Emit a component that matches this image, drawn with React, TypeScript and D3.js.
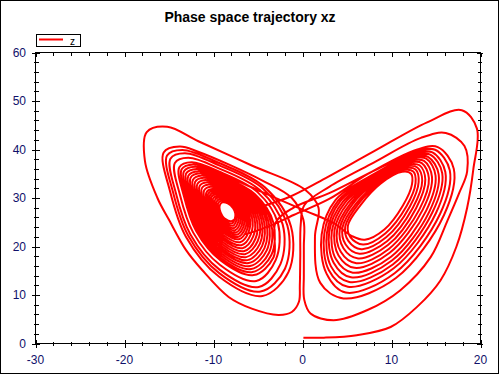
import React from 'react';
import * as d3 from 'd3';

type P = [number, number];

const chartTitle = 'Phase space trajectory xz';
const seriesName = 'z';
const xDomain: P = [-30, 20];
const zDomain: P = [0, 60];
const xMajorTicks = [-30, -20, -10, 0, 10, 20];
const zMajorTicks = [0, 10, 20, 30, 40, 50, 60];

// trajectory, in drawing order
const startRun: P[] = [
  [0.1, 1.2], [2.4, 1.2], [6.1, 1.7], [9.9, 3.4], [12.9, 7.6], [15.5, 13.0], [17.3, 20.0],
  [18.5, 28.0], [19.2, 36.0], [19.6, 44.3], [17.9, 48.1], [14.0, 45.6], [8.0, 39.6],
  [2.0, 33.5], [-1.5, 30.2], [-4.5, 28.3], [-6.6, 27.0],
];

const leftSpiralA: P[][] = [
  [[-8.0, 25.2], [-8.7, 25.7], [-9.0, 26.3], [-9.3, 27.6], [-9.3, 28.5], [-9.0, 29.1], [-8.4, 28.9], [-7.8, 27.9], [-7.55, 26.8], [-7.6, 25.8]],
  [[-7.9, 24.75], [-8.72, 25.35], [-9.12, 26.17], [-9.47, 27.72], [-9.49, 28.83], [-9.14, 29.45], [-8.43, 29.17], [-7.69, 28.04], [-7.35, 26.72], [-7.41, 25.45]],
  [[-7.79, 24.28], [-8.74, 24.99], [-9.25, 26.04], [-9.64, 27.83], [-9.68, 29.15], [-9.29, 29.79], [-8.47, 29.43], [-7.57, 28.18], [-7.15, 26.63], [-7.22, 25.09]],
  [[-7.69, 23.81], [-8.76, 24.63], [-9.37, 25.91], [-9.8, 27.95], [-9.87, 29.48], [-9.43, 30.14], [-8.5, 29.7], [-7.46, 28.31], [-6.95, 26.55], [-7.02, 24.74]],
  [[-7.58, 23.35], [-8.78, 24.27], [-9.49, 25.78], [-9.97, 28.07], [-10.06, 29.81], [-9.58, 30.48], [-8.53, 29.97], [-7.34, 28.45], [-6.75, 26.46], [-6.83, 24.38]],
  [[-7.48, 22.89], [-8.81, 23.92], [-9.62, 25.66], [-10.14, 28.19], [-10.25, 30.14], [-9.72, 30.83], [-8.57, 30.24], [-7.23, 28.59], [-6.55, 26.38], [-6.64, 24.03]],
  [[-7.37, 22.43], [-8.83, 23.56], [-9.74, 25.53], [-10.31, 28.3], [-10.43, 30.46], [-9.86, 31.17], [-8.6, 30.5], [-7.12, 28.73], [-6.35, 26.3], [-6.45, 23.68]],
  [[-7.27, 21.97], [-8.85, 23.2], [-9.86, 25.4], [-10.48, 28.42], [-10.62, 30.79], [-10.01, 31.52], [-8.63, 30.77], [-7.0, 28.87], [-6.15, 26.21], [-6.26, 23.32]],
  [[-7.16, 21.5], [-8.87, 22.84], [-9.98, 25.27], [-10.64, 28.54], [-10.81, 31.12], [-10.15, 31.86], [-8.66, 31.04], [-6.89, 29.0], [-5.95, 26.13], [-6.06, 22.97]],
  [[-7.02, 20.89], [-8.9, 22.37], [-10.15, 25.1], [-10.87, 28.69], [-11.06, 31.55], [-10.34, 32.32], [-8.71, 31.39], [-6.74, 29.19], [-5.69, 26.02], [-5.81, 22.5]],
  [[-6.88, 20.27], [-8.92, 21.89], [-10.31, 24.92], [-11.09, 28.85], [-11.32, 31.99], [-10.54, 32.78], [-8.75, 31.75], [-6.58, 29.37], [-5.42, 25.9], [-5.55, 22.02]],
  [[-6.74, 19.66], [-8.95, 21.42], [-10.48, 24.75], [-11.32, 29.0], [-11.57, 32.42], [-10.73, 33.24], [-8.8, 32.1], [-6.43, 29.56], [-5.16, 25.79], [-5.3, 21.55]],
  [[-6.6, 19.04], [-8.98, 20.94], [-10.64, 24.58], [-11.54, 29.16], [-11.82, 32.86], [-10.92, 33.7], [-8.84, 32.46], [-6.28, 29.74], [-4.89, 25.68], [-5.04, 21.08]],
  [[-6.46, 18.42], [-9.01, 20.46], [-10.8, 24.41], [-11.76, 29.32], [-12.07, 33.3], [-11.11, 34.16], [-8.88, 32.82], [-6.13, 29.92], [-4.62, 25.57], [-4.78, 20.61]],
  [[-6.32, 17.81], [-9.04, 19.99], [-10.97, 24.24], [-11.99, 29.47], [-12.32, 33.73], [-11.3, 34.62], [-8.93, 33.17], [-5.98, 30.11], [-4.36, 25.46], [-4.53, 20.14]],
  [[-6.18, 17.19], [-9.06, 19.51], [-11.13, 24.06], [-12.21, 29.63], [-12.58, 34.17], [-11.5, 35.08], [-8.97, 33.53], [-5.82, 30.29], [-4.09, 25.34], [-4.27, 19.66]],
  [[-6.04, 16.58], [-9.09, 19.04], [-11.3, 23.89], [-12.44, 29.78], [-12.83, 34.6], [-11.69, 35.54], [-9.02, 33.88], [-5.67, 30.48], [-3.83, 25.23], [-4.02, 19.19]],
  [[-5.9, 15.96], [-9.12, 18.56], [-11.46, 23.72], [-12.66, 29.94], [-13.08, 35.04], [-11.88, 36.0], [-9.06, 34.24], [-5.52, 30.66], [-3.56, 25.12], [-3.76, 18.72]],
  [[-5.76, 15.34], [-9.15, 18.08], [-11.62, 23.55], [-12.88, 30.1], [-13.33, 35.48], [-12.07, 36.46], [-9.1, 34.6], [-5.37, 30.84], [-3.29, 25.01], [-3.5, 18.25]],
  [[-5.62, 14.73], [-9.18, 17.61], [-11.79, 23.38], [-13.11, 30.25], [-13.58, 35.91], [-12.26, 36.92]],
];

const switchLeftToRight: P[] = [[-9.2, 35.0], [-4.5, 31.2], [0.0, 27.6], [3.5, 24.8], [5.5, 22.2]];

const rightSpiralA: P[][] = [
  [[7.0, 21.4], [9.2, 23.5], [11.3, 28.5], [12.3, 32.8], [12.2, 35.0], [11.2, 35.4], [8.8, 33.0], [6.5, 28.5], [5.1, 24.3], [5.4, 21.9]],
  [[6.8, 20.4], [9.3, 22.7], [11.7, 28.35], [12.7, 33.05], [12.45, 35.45], [11.35, 35.75], [8.7, 33.15], [6.2, 28.6], [4.8, 24.1], [5.15, 21.15]],
  [[6.6, 19.45], [9.4, 21.9], [12.05, 28.2], [13.05, 33.3], [12.7, 35.9], [11.5, 36.15], [8.6, 33.3], [5.95, 28.7], [4.5, 23.95], [4.85, 20.4]],
  [[6.4, 18.5], [9.5, 21.1], [12.4, 28.0], [13.45, 33.55], [12.9, 36.3], [11.6, 36.5], [8.45, 33.5], [5.65, 28.8], [4.2, 23.75], [4.6, 19.65]],
  [[6.25, 17.55], [9.6, 20.3], [12.75, 27.85], [13.8, 33.8], [13.15, 36.75], [11.75, 36.85], [8.35, 33.65], [5.4, 28.9], [3.9, 23.55], [4.3, 18.9]],
  [[6.05, 16.55], [9.7, 19.5], [13.15, 27.7], [14.2, 34.1], [13.4, 37.2], [11.9, 37.25], [8.25, 33.8], [5.1, 29.0], [3.6, 23.4], [4.05, 18.15]],
  [[5.85, 15.6], [9.8, 18.7], [13.5, 27.55], [14.55, 34.35], [13.65, 37.65], [12.0, 37.6], [8.15, 33.95], [4.8, 29.1], [3.3, 23.2], [3.75, 17.4]],
  [[5.65, 14.6], [9.95, 17.9], [13.9, 27.4], [14.95, 34.6], [13.9, 38.1], [12.15, 38.0], [8.0, 34.1], [4.55, 29.25], [3.0, 23.0], [3.5, 16.65]],
  [[5.45, 13.65], [10.05, 17.1], [14.25, 27.2], [15.3, 34.85], [14.1, 38.5], [12.3, 38.35], [7.9, 34.3], [4.25, 29.35], [2.75, 22.85], [3.2, 15.9]],
  [[5.25, 12.7], [10.15, 16.3], [14.6, 27.05], [15.7, 35.1], [14.35, 38.95], [12.4, 38.7], [7.8, 34.45], [4.0, 29.45], [2.45, 22.65], [2.95, 15.15]],
  [[5.1, 11.7], [10.25, 15.5], [15.0, 26.9], [16.05, 35.35], [14.6, 39.4], [12.55, 39.1], [7.7, 34.6], [3.7, 29.55], [2.15, 22.45], [2.7, 14.4]],
  [[4.85, 10.5], [10.35, 14.5], [15.45, 26.7], [16.55, 35.7], [14.9, 39.95], [12.75, 39.55]],
];

const switchRightToLeft: P[] = [[8.0, 35.6], [3.0, 31.0], [-1.0, 28.0]];

const leftSpiralB: P[][] = [
  [[-3.03, 24.9], [-3.25, 17.78]],
  [[-5.48, 14.11], [-9.2, 17.13], [-11.95, 23.2], [-13.33, 30.41], [-13.84, 36.35], [-12.46, 37.38], [-9.19, 35.31], [-5.06, 31.21], [-2.76, 24.78], [-2.99, 17.3]],
  [[-5.2, 12.88], [-9.26, 16.18], [-12.28, 22.86], [-13.78, 30.72], [-14.34, 37.22], [-12.84, 38.3], [-9.28, 36.02], [-4.76, 31.58], [-2.23, 24.56], [-2.48, 16.36]],
  [[-4.92, 11.65], [-9.32, 15.23], [-12.61, 22.52], [-14.23, 31.03], [-14.84, 38.09], [-13.22, 39.22], [-9.37, 36.73], [-4.46, 31.95], [-1.7, 24.34], [-1.97, 15.42]],
  [[-4.71, 10.72], [-9.36, 14.51], [-12.85, 22.26], [-14.56, 31.27], [-15.22, 38.75], [-13.51, 39.91], [-9.43, 37.27], [-4.23, 32.22], [-1.3, 24.17], [-1.58, 14.71]],
  [[-4.5, 9.8], [-9.4, 13.8], [-13.1, 22.0], [-14.9, 31.5], [-15.6, 39.4], [-13.8, 40.6], [-11.8, 39.6]],
];

const outerCrossing: P[] = [
  [-4.5, 33.6], [-1.2, 30.0], [0.1, 25.5], [0.15, 20.0], [0.15, 14.0], [0.2, 9.0], [0.9, 6.2],
  [3.5, 4.8], [7.3, 6.9], [11.0, 11.0], [14.4, 17.8], [16.3, 25.4], [17.6, 31.0], [18.5, 35.5],
  [18.2, 40.7], [16.1, 43.4], [13.3, 42.4], [8.0, 37.3], [3.0, 32.3], [0.2, 28.5], [-0.2, 24.5],
  [-0.25, 18.0], [-0.3, 12.0], [-0.4, 8.6], [-1.2, 6.5], [-2.7, 5.9], [-5.7, 7.2], [-8.3, 9.6],
  [-11.3, 15.2], [-13.1, 19.3], [-15.0, 25.5], [-16.3, 30.0], [-17.7, 37.6], [-17.5, 43.6],
  [-15.2, 44.7], [-11.7, 41.7], [-5.7, 36.7], [0.3, 31.7],
];

const rightSpiralB: P[][] = [
  [[1.8, 28.0], [1.4, 22.0], [2.0, 12.5]],
  [[4.6, 9.3], [10.5, 13.5], [15.9, 26.5], [17.0, 36.0], [15.2, 40.5], [12.9, 40.0], [7.4, 35.0], [3.0, 29.8]],
  [[-1.0, 26.5], [-4.0, 24.0], [-6.5, 22.5]],
];

const trajectory: P[] = [
  ...startRun,
  ...leftSpiralA.flat(),
  ...switchLeftToRight,
  ...rightSpiralA.flat(),
  ...switchRightToLeft,
  ...leftSpiralB.flat(),
  ...outerCrossing,
  ...rightSpiralB.flat(),
] as P[];

const W = 500;
const H = 375;
const PL = 35.5;
const PR = 480.5;
const PT = 52.5;
const PB = 343.5;

export default function App() {
  const x = d3.scaleLinear().domain(xDomain).range([PL, PR]);
  const y = d3.scaleLinear().domain(zDomain).range([PB, PT]);
  const line = d3
    .line<P>()
    .x((d) => x(d[0]))
    .y((d) => y(d[1]))
    .curve(d3.curveCatmullRom.alpha(0.5));
  const xMinor = x.ticks(25).filter((t) => !xMajorTicks.includes(t));
  const zMinor = y.ticks(30).filter((t) => !zMajorTicks.includes(t));
  const font = 'Liberation Sans, Arial, Helvetica, sans-serif';
  const labelColor = '#10106a';
  return (
    <svg
      width={W}
      height={H}
      style={{ position: 'absolute', left: 0, top: 0, background: '#fff' }}
      fontFamily={font}
    >
      <rect x={0.5} y={0.5} width={W - 2} height={H - 2} fill="#fff" stroke="#000" />
      <text x={250} y={22} textAnchor="middle" fontSize={14} fontWeight="bold" fill="#000">
        {chartTitle}
      </text>
      <defs>
        <clipPath id="plotClip">
          <rect x={PL} y={PT} width={PR - PL} height={PB - PT} />
        </clipPath>
      </defs>
      <path
        d={line(trajectory) || ''}
        fill="none"
        stroke="#ff0000"
        strokeWidth={2}
        strokeLinejoin="round"
        clipPath="url(#plotClip)"
      />
      <g stroke="#000" strokeWidth={1} shapeRendering="crispEdges">
        <rect x={PL} y={PT} width={PR - PL} height={PB - PT} fill="none" />
        {xMajorTicks.map((t) => (
          <g key={'xm' + t}>
            <line x1={Math.round(x(t)) + 0.5} x2={Math.round(x(t)) + 0.5} y1={PB - 4} y2={PB + 4} />
            <line x1={Math.round(x(t)) + 0.5} x2={Math.round(x(t)) + 0.5} y1={PT} y2={PT + 4} />
          </g>
        ))}
        {xMinor.map((t) => (
          <g key={'xn' + t}>
            <line x1={Math.round(x(t)) + 0.5} x2={Math.round(x(t)) + 0.5} y1={PB - 2} y2={PB + 2} />
            <line x1={Math.round(x(t)) + 0.5} x2={Math.round(x(t)) + 0.5} y1={PT} y2={PT + 3} />
          </g>
        ))}
        {zMajorTicks.map((t) => (
          <g key={'zm' + t}>
            <line x1={PL - 4} x2={PL + 4} y1={Math.round(y(t)) + 0.5} y2={Math.round(y(t)) + 0.5} />
            <line x1={PR - 4} x2={PR + 2} y1={Math.round(y(t)) + 0.5} y2={Math.round(y(t)) + 0.5} />
          </g>
        ))}
        {zMinor.map((t) => (
          <g key={'zn' + t}>
            <line x1={PL - 2} x2={PL + 3} y1={Math.round(y(t)) + 0.5} y2={Math.round(y(t)) + 0.5} />
            <line x1={PR - 3} x2={PR + 1} y1={Math.round(y(t)) + 0.5} y2={Math.round(y(t)) + 0.5} />
          </g>
        ))}
      </g>
      <g fontSize={12} fill={labelColor}>
        {xMajorTicks.map((t) => (
          <text key={'xl' + t} x={x(t)} y={363.5} textAnchor="middle">
            {t}
          </text>
        ))}
        {zMajorTicks.map((t) => (
          <text key={'zl' + t} x={26} y={y(t)} dy="0.36em" textAnchor="end">
            {t}
          </text>
        ))}
      </g>
      <g>
        <rect x={36.5} y={34.5} width={44} height={12} fill="#fff" stroke="#000" shapeRendering="crispEdges" />
        <line x1={39} x2={63} y1={39.5} y2={39.5} stroke="#ff0000" strokeWidth={2} />
        <text x={70} y={44.5} fontSize={10} fill="#000">
          {seriesName}
        </text>
      </g>
    </svg>
  );
}
